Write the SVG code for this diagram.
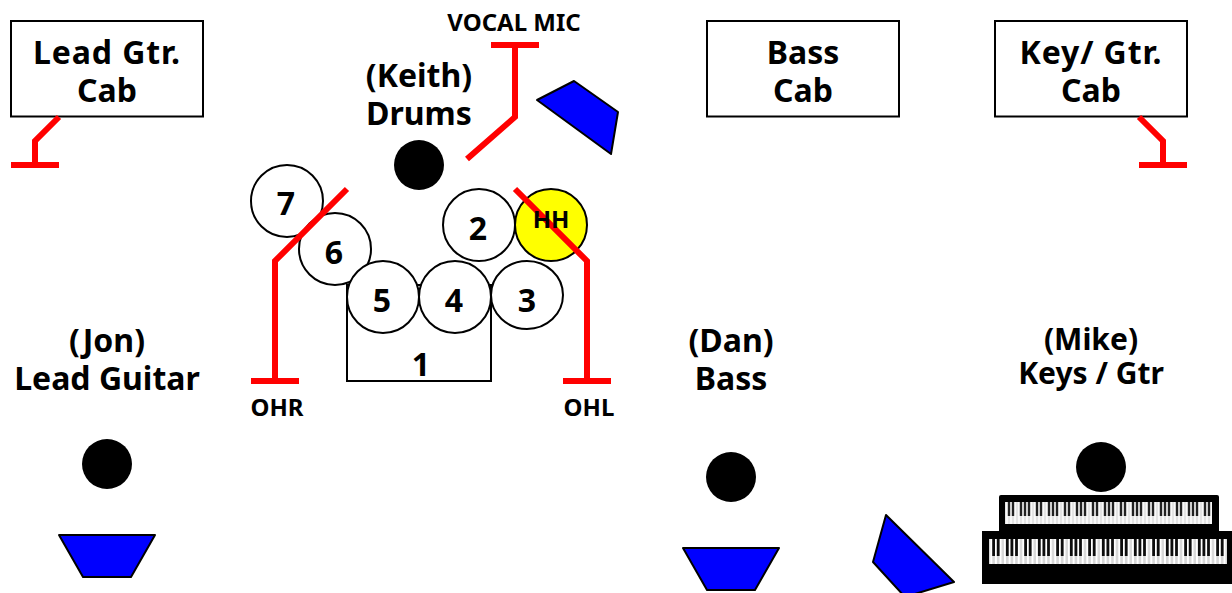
<svg xmlns="http://www.w3.org/2000/svg" width="1232" height="593" viewBox="0 0 1232 593">
<style>
text{font-family:"Noto Sans","Open Sans","DejaVu Sans",sans-serif;font-weight:700;fill:#000;text-anchor:middle}
.l{font-size:32px}.m{font-size:30px}.s{font-size:24px}.h{font-size:24px}
.w{letter-spacing:0.9px}
.box{fill:#fff;stroke:#000;stroke-width:2}
.drum{fill:#fff;stroke:#000;stroke-width:2}
.mic{fill:none;stroke:#f00;stroke-width:6;stroke-linejoin:miter}
.wedge{fill:#00f;stroke:#000;stroke-width:2;stroke-linejoin:round}
</style>
<defs>
<filter id="soft" x="-2%" y="-5%" width="104%" height="110%"><feGaussianBlur stdDeviation="0.5"/></filter>
<pattern id="k1" x="1005" y="502" width="28" height="22" patternUnits="userSpaceOnUse">
<rect width="28" height="22" fill="#e4e4e4"/>
<path d="M2 0V22M6 0V22M10 0V22M14 0V22M18 0V22M22 0V22M26 0V22" stroke="#fff" stroke-width="1.6"/>
<path d="M4 0V14M8 0V14M16 0V14M20 0V14M24 0V14" stroke="#222" stroke-width="2.4"/>
</pattern>
<pattern id="k2" x="989" y="539" width="32" height="25" patternUnits="userSpaceOnUse">
<rect width="32" height="25" fill="#d8d8d8"/>
<path d="M2.3 0V25M6.9 0V25M11.5 0V25M16 0V25M20.6 0V25M25.2 0V25M29.7 0V25" stroke="#fff" stroke-width="2"/>
<path d="M4.6 0V17M9.2 0V17M18.3 0V17M22.9 0V17M27.5 0V17" stroke="#111" stroke-width="2.8"/>
</pattern>
</defs>
<g id="cab-lead"><rect class="box" x="11" y="21" width="192" height="95.5"/><text class="l"><tspan class="w" x="107" y="64">Lead Gtr.</tspan><tspan x="107" y="102">Cab</tspan></text></g>
<g id="cab-bass"><rect class="box" x="707" y="21" width="192" height="95.5"/><text class="l"><tspan x="803" y="64">Bass</tspan><tspan x="803" y="102">Cab</tspan></text></g>
<g id="cab-keys"><rect class="box" x="995" y="21" width="192" height="95.5"/><text class="l"><tspan class="w" x="1091" y="64">Key/ Gtr.</tspan><tspan x="1091" y="102">Cab</tspan></text></g>
<g id="drummer"><text class="l"><tspan x="419" y="87">(Keith)</tspan><tspan x="419" y="125">Drums</tspan></text><circle cx="419" cy="165" r="25"/></g>
<g id="kick"><rect class="box" x="347" y="285" width="144" height="96"/><text class="l" x="421" y="376">1</text></g>
<g id="tom7"><circle class="drum" cx="287" cy="201" r="36"/><text class="l" x="286" y="215">7</text></g>
<g id="tom6"><circle class="drum" cx="335" cy="249" r="36"/><text class="l" x="334" y="264">6</text></g>
<g id="tom5"><circle class="drum" cx="383" cy="297" r="36"/><text class="l" x="382" y="312">5</text></g>
<g id="tom4"><circle class="drum" cx="455" cy="297" r="36"/><text class="l" x="454" y="312">4</text></g>
<g id="tom3"><ellipse class="drum" cx="527" cy="295" rx="36" ry="34"/><text class="l" x="527" y="312">3</text></g>
<g id="tom2"><circle class="drum" cx="479" cy="225" r="36"/><text class="l" x="478" y="240">2</text></g>
<g id="hihat"><circle cx="551" cy="225" r="36" fill="#ff0" stroke="#000" stroke-width="2"/></g>
<g id="connectors">
<path class="mic" d="M59 117L35 141V165M11 165H59"/>
<path class="mic" d="M1139 117L1163 141V165M1139 165H1187"/>
<path class="mic" d="M467 159L515 117V45M491 45H539"/>
<path class="mic" d="M347 189L275 261V381M251 381H299"/>
<path class="mic" d="M515 189L587 261V381M563 381H611"/>
</g>
<g id="label-hh"><text class="h" x="551" y="228">HH</text></g>
<g id="wedge-drums"><path class="wedge" d="M537 100L574 81L618 112L611 154Z"/></g>
<g id="label-vocal"><text class="s" x="514" y="31">VOCAL MIC</text></g>
<g id="label-ohr"><text class="s" x="277" y="416">OHR</text></g>
<g id="label-ohl"><text class="s" x="589" y="416">OHL</text></g>
<g id="guitarist"><text class="l"><tspan x="107" y="352">(Jon)</tspan><tspan x="107" y="390">Lead Guitar</tspan></text><circle cx="107" cy="464" r="25"/><path class="wedge" d="M59 535H155L131 577H83Z"/></g>
<g id="bassist"><text class="l"><tspan x="731" y="352">(Dan)</tspan><tspan x="731" y="390">Bass</tspan></text><circle cx="731" cy="477" r="25"/><path class="wedge" d="M683 548H779L755 590H707Z"/></g>
<g id="wedge-keys"><path class="wedge" d="M886 515L954 582L905 597L873 562Z"/></g>
<g id="keys"><text class="m"><tspan x="1091" y="350">(Mike)</tspan><tspan x="1091" y="384">Keys / Gtr</tspan></text><circle cx="1101" cy="467" r="25"/>
<rect x="982" y="531" width="250" height="53"/><rect x="999" y="495" width="220" height="46" rx="2"/>
<g filter="url(#soft)"><rect x="1005" y="502" width="207" height="22" fill="url(#k1)"/><rect x="989" y="539" width="238" height="25" fill="url(#k2)"/></g></g>
</svg>
